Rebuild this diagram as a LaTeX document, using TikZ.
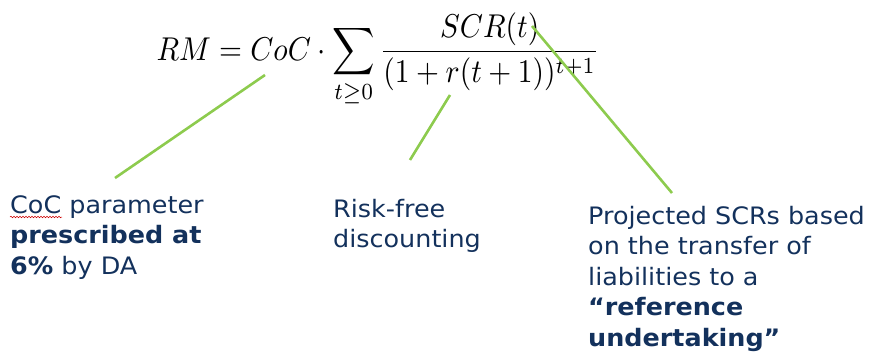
\documentclass[tikz,border=0pt]{standalone}
\usepackage{fontspec}
\setmainfont{DejaVu Sans}[FakeStretch=1.06]
\usetikzlibrary{decorations.pathmorphing}
\definecolor{navy}{HTML}{13315C}
\definecolor{lgreen}{HTML}{8DCB4E}
\tikzset{
  lbl/.style={anchor=north west, inner sep=0pt, align=left, text=navy,
    font=\fontsize{24}{30.5}\selectfont},
  pointer/.style={draw=lgreen, line width=2.6pt},
}
\begin{document}
\begin{tikzpicture}[x=1pt,y=-1pt]
\useasboundingbox (0,0) rectangle (873,351);
\node[inner sep=0pt] (eq) at (378,60)
  {\scalebox{2.95}[3.3]{$\displaystyle RM = CoC \cdot \sum_{t\geq 0}\frac{SCR(t)}{(1+r(t+1))^{t+1}}$}};
\coordinate (p1s) at (265,75);
\coordinate (p1e) at (115,178);
\coordinate (p2s) at (450,95);
\coordinate (p2e) at (410,160);
\coordinate (p3s) at (532,26);
\coordinate (p3e) at (672,193);
\draw[pointer] (p1s) -- (p1e);
\draw[pointer] (p2s) -- (p2e);
\draw[pointer] (p3s) -- (p3e);
\node[lbl] (coc) at (10,195) {CoC parameter\\\textbf{prescribed at}\\\textbf{6\%} by DA};
\node[lbl] (rf) at (333,199) {Risk-free\\discounting};
\node[lbl] (scr) at (588,206) {Projected SCRs based\\on the transfer of\\liabilities to a\\\textbf{“reference}\\\textbf{undertaking”}};
\coordinate (sq1) at (10,217);
\coordinate (sq2) at (62,217);
\draw[red!80!black, line width=0.5pt, decorate, decoration={snake, amplitude=0.8pt, segment length=3pt}] (sq1) -- (sq2);
\end{tikzpicture}
\end{document}
